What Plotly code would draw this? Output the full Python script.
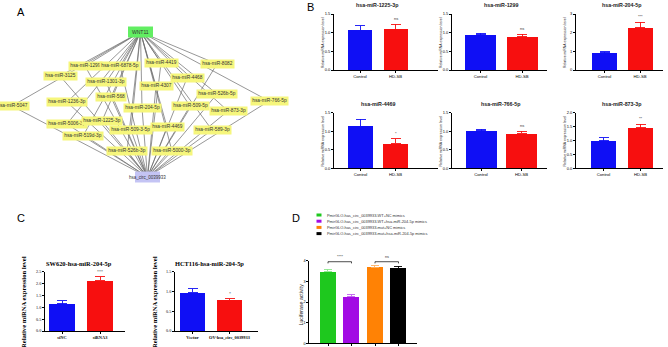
import plotly.graph_objects as go

W, H = 668, 347

# ---------------- Panel A : network ----------------
hub_name = "WNT11"
hub_xy = (140.5, 32)
circ_name = "hsa_circ_0039933"
circ_xy = (147.5, 177)
mirna_names = ["hsa-miR-1299", "hsa-miR-6878-5p", "hsa-miR-4419", "hsa-miR-8082",
               "hsa-miR-3125", "hsa-miR-1301-3p", "hsa-miR-4468", "hsa-miR-4307",
               "hsa-miR-568", "hsa-miR-526b-5p", "hsa-miR-766-5p", "hsa-miR-5047",
               "hsa-miR-1236-3p", "hsa-miR-204-5p", "hsa-miR-509-5p", "hsa-miR-873-3p",
               "hsa-miR-5006-3p", "hsa-miR-1225-3p", "hsa-miR-509-3-5p", "hsa-miR-4469",
               "hsa-miR-589-3p", "hsa-miR-519d-3p", "hsa-miR-526b-3p", "hsa-miR-5000-3p"]
mirna_x = [85, 120, 161, 217, 60, 106, 187, 156, 111, 217, 269, 12,
           67, 142, 190, 228, 67, 102, 131, 167, 212, 83, 127, 172]
mirna_y = [66, 66, 63, 64, 76, 82, 78, 86, 97, 94, 101, 106,
           102, 108, 106, 111, 124, 121, 130, 127, 130, 136, 151, 151]

# ---------------- Panel B ----------------
b_titles = ["hsa-miR-1225-3p", "hsa-miR-1299", "hsa-miR-204-5p",
            "hsa-miR-4469", "hsa-miR-766-5p", "hsa-miR-873-3p"]
b_groups = ["Control", "HD-SB"]
b_control = [1.06, 0.94, 0.93, 1.14, 1.01, 0.99]
b_control_err = [0.12, 0.04, 0.05, 0.18, 0.04, 0.11]
b_hdsb = [1.09, 0.89, 2.27, 0.67, 0.94, 1.46]
b_hdsb_err = [0.14, 0.07, 0.28, 0.13, 0.06, 0.13]
b_sig = ["ns", "ns", "***", "*", "ns", "**"]
b_ymax = [1.5, 1.5, 3, 1.5, 1.5, 2.0]
b_dtick = [0.5, 0.5, 1, 0.5, 0.5, 0.5]
b_tickfmt = [".1f", ".1f", "d", ".1f", ".1f", ".1f"]

# ---------------- Panel C ----------------
c_titles = ["SW620-hsa-miR-204-5p", "HCT116-hsa-miR-204-5p"]
c_groups = [["siNC", "siRNA3"], ["Vector", "OV-hsa_circ_0039933"]]
c_values = [[1.14, 2.14], [0.98, 0.78]]
c_errors = [[0.13, 0.14], [0.09, 0.04]]
c_sig = ["***", "*"]
c_ymax = [2.5, 1.5]

# ---------------- Panel D ----------------
d_labels = ["PmirGLO-has_circ_0039933-WT+NC mimics",
            "PmirGLO-has_circ_0039933-WT+hsa-miR-204-5p mimics",
            "PmirGLO-has_circ_0039933-mut+NC mimics",
            "PmirGLO-has_circ_0039933-mut+hsa-miR-204-5p mimics"]
d_values = [3.49, 2.25, 3.69, 3.64]
d_errors = [0.10, 0.10, 0.08, 0.08]
d_pairs = [(0, 1, "****"), (2, 3, "ns")]

BLUE, RED = "#0f0ff5", "#f70f0f"
D_COLORS = ["#1ec81e", "#a20be4", "#ff8205", "#000000"]
D_ERRCOL = ["#8ee88e", "#c060f0", "#ffb060", "#000000"]
SANS = "Liberation Sans, Arial, sans-serif"
SERIF = "Liberation Serif, Times New Roman, serif"

fig = go.Figure()
annotations = []
shapes = []


def fx(px):
    return px / W


def fy(py):
    return 1 - py / H


def note(**kw):
    kw.setdefault("showarrow", False)
    kw.setdefault("xanchor", "center")
    kw.setdefault("yanchor", "middle")
    annotations.append(kw)


# ---------- network ----------
ex, ey = [], []
for x, y in zip(mirna_x, mirna_y):
    ex += [hub_xy[0], x, None, x, circ_xy[0], None]
    ey += [hub_xy[1], y, None, y, circ_xy[1], None]
fig.add_trace(go.Scatter(x=ex, y=ey, mode="lines", line=dict(color="#6a6a6a", width=0.7),
                         hoverinfo="skip", showlegend=False, xaxis="x", yaxis="y"))
fig.update_layout(
    xaxis=dict(domain=[0, fx(330)], range=[0, 330], visible=False, fixedrange=True, automargin=False),
    yaxis=dict(domain=[fy(200), 1], range=[200, 0], visible=False, fixedrange=True, automargin=False),
)
for (cx, cy), col, name, fs in [(hub_xy, "#62ee62", hub_name, 5), (circ_xy, "#c4c4f4", circ_name, 4.5)]:
    shapes.append(dict(type="rect", xref="x", yref="y", x0=cx - 12.5, x1=cx + 12.5,
                       y0=cy - 5.5, y1=cy + 5.5, fillcolor=col, line=dict(width=0), layer="above"))
    note(xref="x", yref="y", x=cx, y=cy, text=name, font=dict(family=SANS, size=fs, color="#333"))
for n, x, y in zip(mirna_names, mirna_x, mirna_y):
    note(xref="x", yref="y", x=x, y=y, text=n, bgcolor="#f6f67c", borderpad=1.3,
         font=dict(family=SANS, size=4.8, color="#333"))


def bar_chart(idx, spec, cats, vals, errs, cols, errcols, ymax, dtick, tickfmt,
              font, tickfont_size, showxlabels=True):
    xa, ya = f"x{idx}", f"y{idx}"
    sp = spec["sp"]
    xr = [-(spec["c0"] - spec["left"]) / sp, (spec["right"] - spec["c0"]) / sp]
    for i, (v, e, c, ec) in enumerate(zip(vals, errs, cols, errcols)):
        fig.add_trace(go.Bar(x=[i], y=[v], width=spec["w"] / sp, marker=dict(color=c, line=dict(width=0)),
                             error_y=dict(type="data", array=[e], arrayminus=[0], symmetric=False,
                                          color=ec, thickness=0.9, width=spec.get("cap", 5)),
                             xaxis=xa, yaxis=ya, showlegend=False, hoverinfo="skip"))
    axl = dict(showline=True, linecolor="black", linewidth=0.8, ticks="outside", ticklen=2,
               tickwidth=0.8, tickcolor="black", showgrid=False, zeroline=False, fixedrange=True,
               automargin=False)
    fig.layout[f"xaxis{idx}"] = dict(domain=[fx(spec["left"]), fx(spec["right"])], range=xr,
                                     anchor=ya, tickvals=list(range(len(cats))), ticktext=cats,
                                     showticklabels=showxlabels,
                                     tickfont=dict(family=font, size=tickfont_size + 0.2, color="black"),
                                     **axl)
    fig.layout[f"yaxis{idx}"] = dict(domain=[fy(spec["bottom"]), fy(spec["top"])], range=[0, ymax],
                                     anchor=xa, dtick=dtick, tick0=0, tickformat=tickfmt,
                                     tickfont=dict(family=font, size=tickfont_size, color="black"),
                                     **axl)
    return xa, ya


# ---------- Panel B ----------
B_SPECS = [
    dict(left=334, right=438, top=14, bottom=70, c0=360, sp=35.5, w=24),
    dict(left=452, right=547, top=14, bottom=70, c0=480.5, sp=41.5, w=31),
    dict(left=576, right=663, top=14, bottom=70, c0=604.5, sp=35.5, w=25),
    dict(left=334, right=438, top=112.7, bottom=168.3, c0=360.5, sp=35, w=25),
    dict(left=452, right=547, top=112.7, bottom=168.3, c0=481, sp=40.5, w=31),
    dict(left=576, right=663, top=112.7, bottom=168.3, c0=603.5, sp=37, w=25),
]
for k in range(6):
    s = B_SPECS[k]
    vals = [b_control[k], b_hdsb[k]]
    errs = [b_control_err[k], b_hdsb_err[k]]
    xa, ya = bar_chart(k + 2, s, b_groups, vals, errs, [BLUE, RED], [BLUE, RED],
                       b_ymax[k], b_dtick[k], b_tickfmt[k], SANS, 4)
    note(xref=xa, yref="paper", x=0.5, y=fy(s["top"] - 9), text="<b>" + b_titles[k] + "</b>",
         font=dict(family=SANS, size=5.3, color="#222"))
    note(xref="paper", yref="paper", x=fx(s["left"] - 11), y=fy((s["top"] + s["bottom"]) / 2 + 1),
         text="Relative miRNA expression level", textangle=-90,
         font=dict(family=SANS, size=3.5, color="#222"))
    note(xref=xa, yref=ya, x=1, y=vals[1] + errs[1], yshift=1, yanchor="bottom",
         text=b_sig[k], font=dict(family=SANS, size=4, color="#333"))

# ---------- Panel C ----------
C_SPECS = [
    dict(left=45, right=125, top=271.7, bottom=331, c0=62, sp=38, w=26, ty=263, yt=23),
    dict(left=175, right=258, top=271.7, bottom=331, c0=192.5, sp=37, w=25, ty=263, yt=154),
]
for k in range(2):
    s = C_SPECS[k]
    xa, ya = bar_chart(k + 8, s, ["<b>%s</b>" % g for g in c_groups[k]], c_values[k], c_errors[k],
                       [BLUE, RED], [BLUE, RED], c_ymax[k], 0.5, ".1f", SERIF, 4.2)
    note(xref=xa, yref="paper", x=0.45, y=fy(s["ty"]), text="<b>" + c_titles[k] + "</b>",
         font=dict(family=SERIF, size=6.4, color="black"))
    note(xref="paper", yref="paper", x=fx(s["yt"]), y=fy(302),
         text="<b>Relative miRNA expression level</b>", textangle=-90,
         font=dict(family=SERIF, size=6.6, color="black"))
    note(xref=xa, yref=ya, x=1, y=c_values[k][1] + c_errors[k][1], yshift=1, yanchor="bottom",
         text=c_sig[k], font=dict(family=SERIF, size=4, color="#333"))

# ---------- Panel D ----------
D_SPEC = dict(left=309.3, right=417, top=260.7, bottom=343.3, c0=328, sp=23.5, w=15.6, cap=4)
xa, ya = bar_chart(10, D_SPEC, ["", "", "", ""], d_values, d_errors, D_COLORS, D_ERRCOL,
                   4, 1, "d", SANS, 3.8, showxlabels=False)
for a, b, t in d_pairs:
    yb = 3.95
    for x0, x1, y0, y1 in [(a, a, yb - 0.08, yb), (a, b, yb, yb), (b, b, yb, yb - 0.08)]:
        shapes.append(dict(type="line", xref=xa, yref=ya, x0=x0, x1=x1, y0=y0, y1=y1,
                           line=dict(color="black", width=0.7)))
    note(xref=xa, yref=ya, x=(a + b) / 2, y=yb, yshift=1, yanchor="bottom", text=t,
         font=dict(family=SANS, size=3.8, color="#333"))
note(xref="paper", yref="paper", x=fx(300.5), y=fy(305), text="Luciferase activity", textangle=-90,
     font=dict(family=SANS, size=5.2, color="#222"))
for i, (lab, col) in enumerate(zip(d_labels, D_COLORS)):
    yy = 215 + i * 6.2
    shapes.append(dict(type="rect", xref="paper", yref="paper", x0=fx(316.5), x1=fx(321.5),
                       y0=fy(yy + 1.5), y1=fy(yy - 1.5), fillcolor=col, line=dict(width=0)))
    note(xref="paper", yref="paper", x=fx(324.5), y=fy(yy), xanchor="left", text=lab,
         font=dict(family=SANS, size=3.9, color="#333"))

# ---------- panel letters ----------
for letter, x, y in [("A", 21, 12), ("B", 310, 7), ("C", 21, 218), ("D", 296, 218)]:
    note(xref="paper", yref="paper", x=fx(x), y=fy(y), text=letter,
         font=dict(family=SANS, size=11, color="black"))

fig.update_layout(width=W, height=H, margin=dict(l=0, r=0, t=0, b=0, autoexpand=False),
                  paper_bgcolor="white",
                  plot_bgcolor="rgba(0,0,0,0)", annotations=annotations, shapes=shapes,
                  bargap=0, showlegend=False)
fig.write_html("out.html", config={"displayModeBar": False},
               post_script="document.body.style.margin='0';document.body.style.overflow='hidden';")
